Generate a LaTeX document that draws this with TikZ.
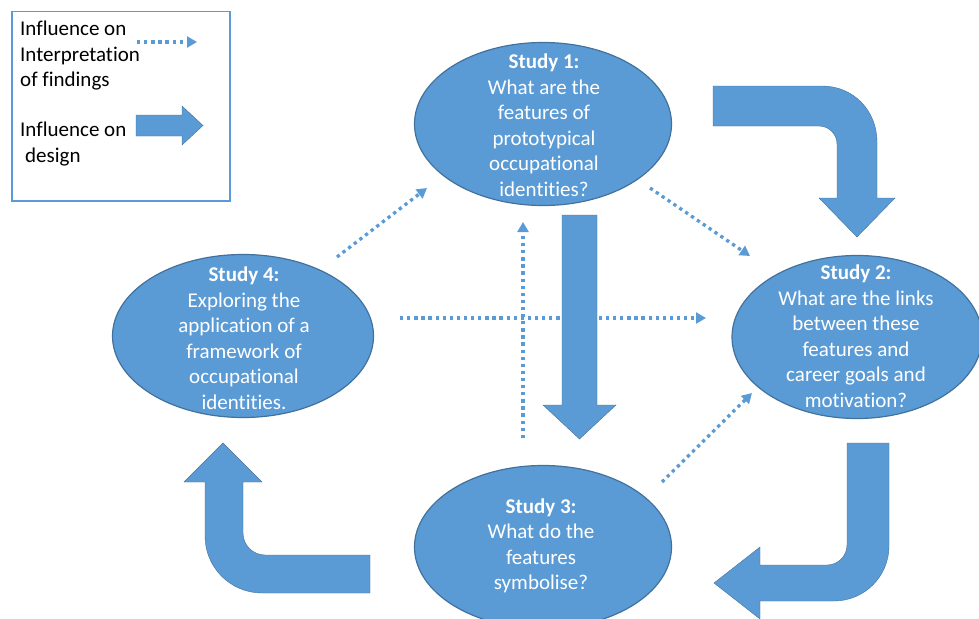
\documentclass[tikz,border=0pt]{standalone}
\usepackage{fontspec}
\setmainfont{Carlito}[Ligatures=NoCommon]
\usetikzlibrary{shapes.geometric,arrows.meta}
\definecolor{accblue}{RGB}{91,155,213}
\definecolor{edgeblue}{RGB}{65,113,156}
\tikzset{
  study/.style={ellipse,draw=edgeblue,line width=1.2pt,fill=accblue,
    minimum width=257pt,minimum height=163pt,inner sep=0pt},
  studytext/.style={text=white,align=center,inner sep=0pt,
    font=\fontsize{21}{25.5}\selectfont},
  legendtext/.style={align=left,inner sep=0pt,anchor=north west,
    font=\fontsize{21}{25.5}\selectfont},
  infl/.style={draw=accblue,line width=3.3pt,dash pattern=on 3.3pt off 3.8pt,
    -{Triangle[length=10pt,width=11pt]}},
  designarrow/.style={fill=accblue,draw=edgeblue,line width=0.4pt}
}
\begin{document}
\begin{tikzpicture}[x=1pt,y=-1pt]
  \useasboundingbox (0,0) rectangle (979,618);
  % legend
  \node[draw=accblue,line width=1.5pt,minimum width=218pt,minimum height=189pt,
    inner sep=0pt,anchor=north west] (lgd) at (11,11) {};
  \node[legendtext] (lgdi) at (20,21) {Influence on\\Interpretation\\of findings};
  \node[legendtext] (lgdd) at (20,122) {Influence on\\\hspace*{5pt}design};
  \coordinate (lgda) at (137,42);
  \coordinate (lgdb) at (197,42);
  \draw[infl] (lgda) to (lgdb);
  \draw[designarrow] (136,115) -- (182,115) -- (182,106) -- (203,125.5)
    -- (182,145) -- (182,136) -- (136,136) -- cycle;

  % studies
  \node[study] (s1) at (543,124) {};
  \node[study,minimum width=250pt] (s2) at (857,337) {};
  \node[study] (s3) at (543,547) {};
  \node[study,minimum width=261pt] (s4) at (243,336) {};
  \node[studytext] (s1t) at (544,125) {\textbf{Study 1:}\\What are the\\features of\\prototypical\\occupational\\identities?};
  \node[studytext] (s2t) at (856,336) {\textbf{Study 2:}\\What are the links\\between these\\features and\\career goals and\\motivation?};
  \node[studytext] (s3t) at (541,546) {\textbf{Study 3:}\\What do the\\features\\symbolise?};
  \node[studytext] (s4t) at (244,338) {\textbf{Study 4:}\\Exploring the\\application of a\\framework of\\occupational\\identities.};

  % influence on interpretation
  \coordinate (s4out) at (337,257);
  \coordinate (s1in) at (427,188);
  \coordinate (s1out) at (650,188);
  \coordinate (s2in) at (750,256);
  \coordinate (s3out) at (662,482);
  \coordinate (s2in2) at (752,393);
  \coordinate (s3up) at (523,438);
  \coordinate (s1in2) at (523,222);
  \coordinate (s4right) at (400,318);
  \coordinate (s2in3) at (706,318);
  \begin{scope}[infl]
    \draw (s4out) to (s1in);
    \draw (s1out) to (s2in);
    \draw (s3out) to (s2in2);
    \draw (s3up) to (s1in2);
    \draw (s4right) to (s2in3);
  \end{scope}

  % influence on design
  \draw[designarrow] (713,86) -- (822,86) .. controls (853.4,86) and (877,110.6) .. (877,142)
    -- (877,198) -- (895,198) -- (857,237) -- (819,198) -- (837,198) -- (837,144)
    .. controls (837,134.1) and (828.9,126) .. (819,126) -- (713,126) -- cycle;
  \draw[designarrow] (847,443) -- (889,443) -- (889,546)
    .. controls (889,576.4) and (864.4,601) .. (834,601) -- (760,601) -- (760,619)
    -- (714,583) -- (760,547) -- (760,565) -- (827,565)
    .. controls (838,565) and (847,556) .. (847,545) -- cycle;
  \draw[designarrow] (370,555) -- (265,555) .. controls (252.9,555) and (243,545.1) .. (243,533)
    -- (243,482) -- (262,482) -- (223,443) -- (184,482) -- (205,482) -- (205,536)
    .. controls (205,567.5) and (230.5,593) .. (262,593) -- (370,593) -- cycle;
  \draw[designarrow] (562,215) -- (597,215) -- (597,405) -- (616,405) -- (579.5,439)
    -- (543,405) -- (562,405) -- cycle;
\end{tikzpicture}
\end{document}
